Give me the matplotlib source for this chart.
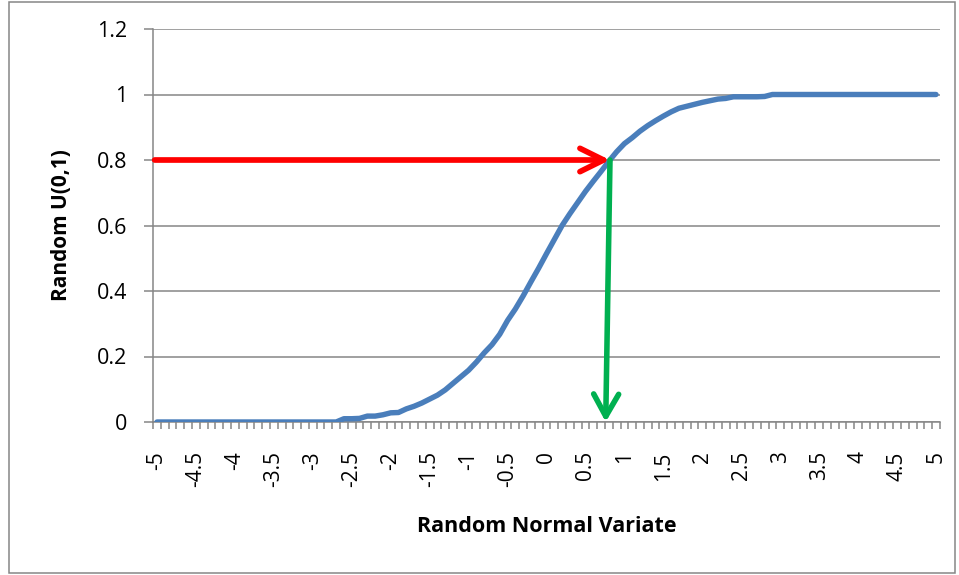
import numpy as np
import matplotlib.pyplot as plt
from matplotlib.patches import Rectangle
from matplotlib.ticker import FixedLocator, FuncFormatter

# categories: random normal variate, -5 .. 5 in steps of 0.1
z_values = np.round(np.arange(-50, 51) / 10.0, 1)
# random U(0,1)
u_values = [0.0] * 23 + [
    0.000, 0.010, 0.010, 0.011, 0.018, 0.018, 0.022, 0.028, 0.029, 0.040,   # -2.7 .. -1.8
    0.048, 0.058, 0.070, 0.082, 0.098, 0.118, 0.138, 0.158, 0.183, 0.211,   # -1.7 .. -0.8
    0.236, 0.268, 0.310, 0.345, 0.385, 0.428, 0.470, 0.514, 0.557, 0.600,   # -0.7 .. 0.2
    0.636, 0.670, 0.704, 0.735, 0.765, 0.796, 0.825, 0.850, 0.868, 0.888,   # 0.3 .. 1.2
    0.905, 0.920, 0.934, 0.947, 0.958, 0.964, 0.970, 0.976, 0.981, 0.986,   # 1.3 .. 2.2
    0.988, 0.993, 0.993, 0.993, 0.993, 0.994,                               # 2.3 .. 2.8
] + [1.0] * 22
tick_labels = ['-5', '-4.5', '-4', '-3.5', '-3', '-2.5', '-2', '-1.5', '-1', '-0.5',
               '0', '0.5', '1', '1.5', '2', '2.5', '3', '3.5', '4', '4.5', '5']

# the worked example: u = 0.8 maps to z ~ 0.8
u_pick = 0.8
z_pick_top = 0.815
z_pick_bottom = 0.76

plt.rcParams['font.family'] = ['Open Sans', 'DejaVu Sans']
grey = '#868686'

fig = plt.figure(figsize=(9.59, 5.75), dpi=100)
ax = fig.add_axes([153.1 / 959, 153 / 575, 786.8 / 959, 393 / 575])

idx = np.arange(len(z_values))
ax.plot(idx, u_values, color='#4a7ebb', lw=3.9, solid_capstyle='round', zorder=3)

def to_idx(z):
    return (z - z_values[0]) / 0.1

ax.annotate('', xy=(to_idx(z_pick_top), u_pick), xytext=(-0.3, u_pick),
            arrowprops=dict(arrowstyle='->,head_length=0.85,head_width=0.42', color='#ff0000',
                            lw=4.1, shrinkA=0, shrinkB=0, mutation_scale=20,
                            capstyle='round', joinstyle='round'), zorder=4)
ax.annotate('', xy=(to_idx(z_pick_bottom), 0.0), xytext=(to_idx(z_pick_top), u_pick),
            arrowprops=dict(arrowstyle='->,head_length=0.8,head_width=0.45', color='#00b050',
                            lw=4.0, shrinkA=0, shrinkB=0, mutation_scale=20,
                            capstyle='round', joinstyle='round'), zorder=4)

ax.set_xlim(-0.5, len(z_values) - 0.5)
ax.set_ylim(0, 1.2)

ax.yaxis.set_major_locator(FixedLocator([0, 0.2, 0.4, 0.6, 0.8, 1.0, 1.2]))
ax.yaxis.set_major_formatter(FuncFormatter(lambda v, p: '%g' % round(v, 1)))
ax.grid(axis='y', color=grey, lw=1.1)
ax.set_axisbelow(True)

label_pos = idx[::5]
ax.set_xticks(label_pos)
ax.set_xticklabels(tick_labels, rotation=90)
ax.xaxis.set_minor_locator(FixedLocator(np.arange(-0.5, len(z_values), 1.0)))

ax.tick_params(axis='x', which='major', length=0, pad=21, labelsize=15)
ax.tick_params(axis='x', which='minor', length=5, width=1.1, color=grey, direction='out')
ax.tick_params(axis='y', length=6.5, width=1.1, color=grey, pad=12, labelsize=15.5)

for side in ['top', 'right']:
    ax.spines[side].set_visible(False)
for side in ['left', 'bottom']:
    ax.spines[side].set_color(grey)
    ax.spines[side].set_linewidth(1.1)

ax.set_xlabel('Random Normal Variate', fontsize=15.5, fontweight='bold', labelpad=21)
ax.set_ylabel('Random U(0,1)', fontsize=15, fontweight='bold', labelpad=18)

fig.patches.append(Rectangle((9 / 959, 2 / 575), 946 / 959, 571 / 575, transform=fig.transFigure,
                             fill=False, edgecolor=grey, lw=1.1))

fig.savefig('out.png', dpi=100)
